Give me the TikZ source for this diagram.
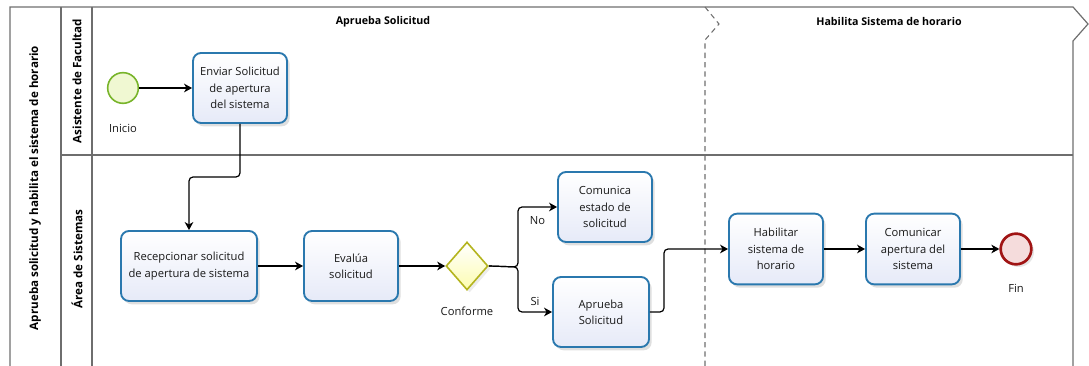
\documentclass[tikz,border=0pt]{standalone}
\usepackage{fontspec}
\setmainfont{Open Sans}
\usepackage{tikz}
\usetikzlibrary{arrows,arrows.meta,shapes,shadows}
\usetikzlibrary{positioning,calc}
\definecolor{lanegray}{HTML}{6E6E6E}
\definecolor{taskblue}{HTML}{2A78AE}
\definecolor{taskfill}{HTML}{E6EAF8}
\definecolor{gwline}{HTML}{B4B41E}
\definecolor{gwfill}{HTML}{FCFCDC}
\definecolor{startline}{HTML}{78B42A}
\definecolor{startfill}{HTML}{F0F8D2}
\definecolor{endline}{HTML}{A01414}
\definecolor{endfill}{HTML}{F5DCDC}
\tikzstyle{lane}=[draw=lanegray,line width=0.9pt]
\tikzstyle{phase}=[draw=lanegray,line width=0.8pt,dash pattern=on 4pt off 3pt]
\tikzstyle{flow}=[draw,-{Stealth[length=6pt,width=6.5pt,inset=1.8pt]},line width=0.9pt,rounded corners=3pt]
\tikzstyle{task}=[rectangle,rounded corners=6pt,draw=taskblue,line width=1.4pt,top color=white,bottom color=taskfill,drop shadow={opacity=0.25,shadow xshift=2pt,shadow yshift=-2.5pt},minimum width=70.5pt,minimum height=52.5pt,align=center,inner sep=2pt,font=\fontsize{8.4}{12.2}\selectfont,text=black!90]
\tikzstyle{gateway}=[diamond,draw=gwline,top color=white,bottom color=gwfill!80!yellow,line width=1.2pt,minimum width=31.5pt,minimum height=36pt,inner sep=0pt,drop shadow={opacity=0.15,shadow xshift=2pt,shadow yshift=-2pt}]
\tikzstyle{startev}=[circle,draw=startline,fill=startfill,line width=1.2pt,minimum size=23pt,inner sep=0pt]
\tikzstyle{endev}=[circle,draw=endline,fill=endfill,line width=2pt,minimum size=23pt,inner sep=0pt,drop shadow={opacity=0.2,shadow xshift=2pt,shadow yshift=-2pt}]
\tikzstyle{lbl}=[font=\fontsize{8.4}{10}\selectfont,text=black!90]
\tikzstyle{head}=[font=\fontsize{8}{10}\selectfont\bfseries]
\tikzstyle{lanehead}=[rotate=90,font=\fontsize{8.7}{10}\selectfont\bfseries]

\begin{document}
\begin{tikzpicture}[x=0.75pt,y=-0.75pt]
\useasboundingbox (0,0) rectangle (1089,366);
% pool and lanes
\draw[lane] (10,366) -- (10,7) -- (1073,7) -- (1088,24) -- (1073,41) -- (1073,366);
\draw[lane] (61,7) -- (61,366);
\draw[lane] (92,7) -- (92,366);
\draw[lane] (61,155) -- (1073,155);
\draw[phase] (705,7) -- (719,24) -- (705,40) -- (705,366);
\node [lanehead] (pool) at (35,188) {Aprueba solicitud y habilita el sistema de horario};
\node [lanehead] (lane1) at (77,81) {Asistente de Facultad};
\node [lanehead] (lane2) at (77,259) {Área de Sistemas};
\node [head] (ph1) at (383,22) {Aprueba Solicitud};
\node [head] (ph2) at (889,22) {Habilita Sistema de horario};

\node [startev] (inicio) at (123,88) {};
\node [lbl,below of=inicio,node distance=30pt] {Inicio};
\node [task,right of=inicio,node distance=87.75pt] (enviar) {Enviar Solicitud\\de apertura\\del sistema};

\node [task,minimum width=102pt] (recep) at (189,266) {Recepcionar solicitud\\de apertura de sistema};
\node [task,right of=recep,node distance=121.5pt] (evalua) {Evalúa\\solicitud};
\node [gateway,right of=evalua,node distance=87pt] (gw) {};
\node [lbl,below of=gw,node distance=33.75pt] {Conforme};
\node [task] (comunica) at (605,207) {Comunica\\estado de\\solicitud};
\node [task,minimum width=72pt] (aprueba) at (601,312) {Aprueba\\Solicitud};

\node [task,minimum height=53pt] (habilitar) at (776,249) {Habilitar\\sistema de\\horario};
\node [task,minimum height=53pt,right of=habilitar,node distance=102.75pt] (comunicar) {Comunicar\\apertura del\\sistema};
\node [endev,right of=comunicar,node distance=77.25pt] (fin) {};
\node [lbl,below of=fin,node distance=29.25pt] {Fin};

\coordinate (b1) at (240,177);
\coordinate (split) at (518,267);
\coordinate (j) at (664,312);

\draw[flow] (inicio) -- (enviar);
\draw[flow] (enviar.south) -- (b1) -| (recep.north);
\draw[flow] (recep) -- (evalua);
\draw[flow] (evalua) -- (gw);
\draw[flow] (gw.east) -- (split) |- node[lbl,pos=0.75,below=3pt]{No} (comunica.west);
\draw[flow] (gw.east) -- (split) |- node[lbl,pos=0.75,above=1pt]{Si} (aprueba.west);
\draw[flow] (aprueba.east) -- (j) |- (habilitar.west);
\draw[flow] (habilitar) -- (comunicar);
\draw[flow] (comunicar) -- (fin);
\end{tikzpicture}
\end{document}
